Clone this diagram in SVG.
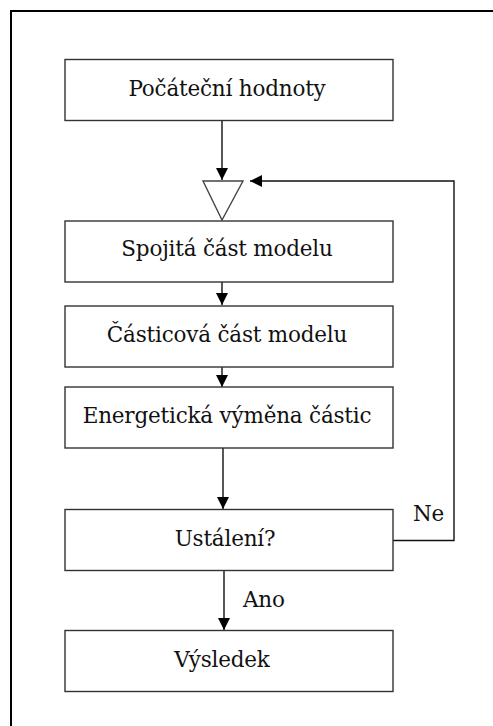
<svg xmlns="http://www.w3.org/2000/svg" width="493" height="726" viewBox="0 0 493 726">
  <style>
    .box { fill: #ffffff; stroke: #333333; stroke-width: 1.4; }
    .lbl { font-family: "DejaVu Serif", "Liberation Serif", serif; font-size: 21.5px; letter-spacing: -0.2px; fill: #111111; }
    .mid { text-anchor: middle; }
    .wire { fill: none; stroke: #111111; stroke-width: 1.4; }
  </style>
  <defs>
    <marker id="head" markerWidth="12" markerHeight="12" viewBox="0 0 12 12" refX="12" refY="6" orient="auto" markerUnits="userSpaceOnUse">
      <path d="M0,0 L12,6 L0,12 Z" fill="#000000"/>
    </marker>
  </defs>

  <!-- frame -->
  <rect x="11" y="11" width="520" height="760" fill="#ffffff" stroke="#000000" stroke-width="2"/>

  <!-- connectors -->
  <g id="connectors">
    <line class="wire" x1="222" y1="121" x2="222" y2="180" marker-end="url(#head)"/>
    <line class="wire" x1="222" y1="282" x2="222" y2="305" marker-end="url(#head)"/>
    <line class="wire" x1="222" y1="367" x2="222" y2="387" marker-end="url(#head)"/>
    <line class="wire" x1="223" y1="448" x2="223" y2="509" marker-end="url(#head)"/>
    <line class="wire" x1="224" y1="571" x2="224" y2="630" marker-end="url(#head)"/>
    <polyline class="wire" points="393,540.5 454,540.5 454,181 250,181" marker-end="url(#head)"/>
    <text class="lbl" x="413" y="521">Ne</text>
    <text class="lbl" x="243" y="607">Ano</text>
  </g>

  <!-- merge junction -->
  <g id="junction">
    <polygon points="203,181 243,181 222,220" fill="#ffffff" stroke="#444444" stroke-width="1.4"/>
  </g>

  <g id="start">
    <rect class="box" x="65" y="59.5" width="328" height="61"/>
    <text class="lbl mid" x="227" y="96">Počáteční hodnoty</text>
  </g>

  <g id="continuum">
    <rect class="box" x="65" y="221" width="328" height="61"/>
    <text class="lbl mid" x="227" y="256">Spojitá část modelu</text>
  </g>

  <g id="particles">
    <rect class="box" x="65" y="306" width="328" height="61"/>
    <text class="lbl mid" x="227" y="342">Částicová část modelu</text>
  </g>

  <g id="exchange">
    <rect class="box" x="65" y="387" width="328" height="61"/>
    <text class="lbl mid" x="227" y="423">Energetická výměna částic</text>
  </g>

  <g id="steady">
    <rect class="box" x="65" y="509.5" width="328" height="61"/>
    <text class="lbl mid" x="225" y="546">Ustálení?</text>
  </g>

  <g id="result">
    <rect class="box" x="65" y="630.5" width="328" height="61"/>
    <text class="lbl mid" x="222" y="667">Výsledek</text>
  </g>
</svg>
